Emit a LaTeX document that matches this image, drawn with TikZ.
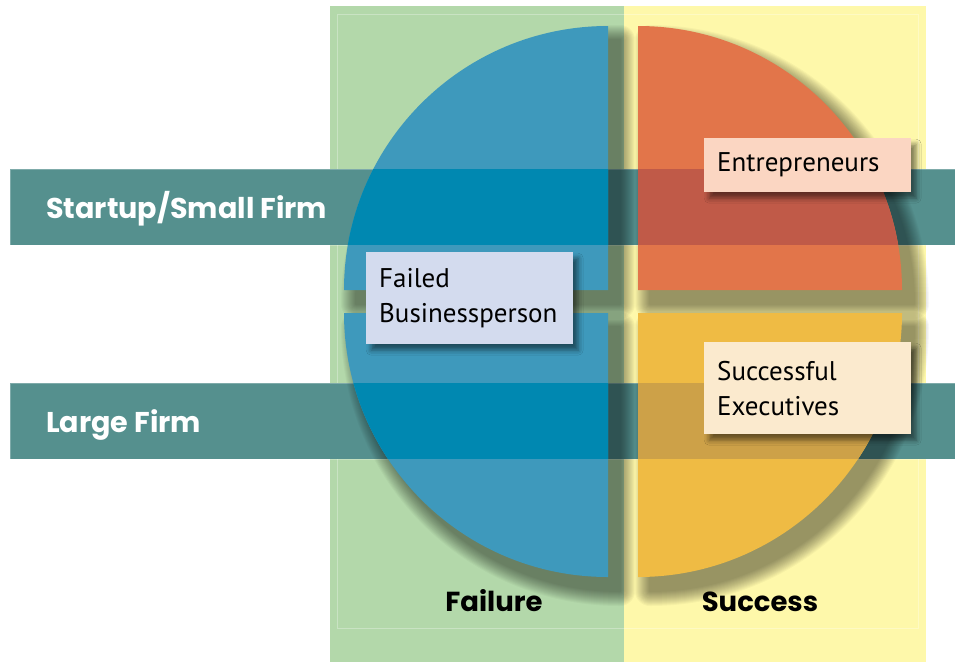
\documentclass[tikz,border=0pt]{standalone}
\usepackage{fontspec}
\setmainfont{PT Sans}
\newfontfamily\labelfont{Poppins}
\usetikzlibrary{shadows.blur}

\definecolor{failgreen}{HTML}{B3D8AA}
\definecolor{succyellow}{HTML}{FEF8AA}
\definecolor{bandteal}{HTML}{55908E}
\definecolor{qblue}{HTML}{3E99BC}
\definecolor{qorange}{HTML}{E2754A}
\definecolor{qyellow}{HTML}{EFBB44}
\definecolor{blueband}{HTML}{0088B1}
\definecolor{orangeband}{HTML}{C05A48}
\definecolor{yellowband}{HTML}{CDA148}
\definecolor{entfill}{HTML}{FBD6C2}
\definecolor{failfill}{HTML}{D3DBEE}
\definecolor{execfill}{HTML}{FBEACE}

% the four quarter discs (y runs downwards in the picture)
\newcommand{\quartTL}{(608,290) -- (344,290) arc[start angle=180, end angle=270, radius=264] -- cycle}
\newcommand{\quartBL}{(608,313) -- (344,313) arc[start angle=180, end angle=90, radius=264] -- cycle}
\newcommand{\quartTR}{(638,290) -- (902,290) arc[start angle=0, end angle=-90, radius=264] -- cycle}
\newcommand{\quartBR}{(638,313) -- (902,313) arc[start angle=0, end angle=90, radius=264] -- cycle}

% soft shadow: stacked strokes of growing width
\newcommand{\softshadow}[1]{%
    \foreach \w in {2,4,...,30} {
        \begin{scope}[shift={(12,14)}, transparency group, opacity=0.03]
            \filldraw[black, line width=\w pt, line join=round] #1;
        \end{scope}
    }}

\begin{document}
\begin{tikzpicture}[x=1pt,y=-1pt,
    band/.style={fill=bandteal, draw=white, draw opacity=0.25, line width=0.6pt},
    namebox/.style={rectangle, inner xsep=13pt, inner ysep=0pt, minimum width=207pt, text width=181pt,
        align=left, anchor=north west, font=\fontsize{27}{35}\selectfont,
        blur shadow={shadow xshift=5pt, shadow yshift=-6pt, shadow blur radius=5pt, shadow opacity=50}},
    rowlabel/.style={anchor=base west, text=white, inner sep=0pt, font=\labelfont\bfseries\fontsize{28.6}{34}\selectfont},
    collabel/.style={anchor=base, inner sep=0pt, font=\labelfont\bfseries\fontsize{27.5}{34}\selectfont}]

    \useasboundingbox (0,0) rectangle (961,662);

    % the two columns
    \fill[failgreen] (330,6) rectangle (624,662);
    \fill[succyellow] (624,6) rectangle (926,662);
    \draw[white, opacity=0.3] (337,14) rectangle (918,628);

    % the two rows
    \path[band] (10,169) rectangle (955,245);
    \path[band] (10,383) rectangle (955,459);

    % quarters with their shadows
    \softshadow{\quartTL}
    \softshadow{\quartBL}
    \softshadow{\quartTR}
    \softshadow{\quartBR}
    \fill[qblue] \quartTL;
    \fill[qblue] \quartBL;
    \fill[qorange] \quartTR;
    \fill[qyellow] \quartBR;

    % rows seen through the quarters
    \begin{scope}
        \clip \quartTL;
        \fill[blueband] (10,169) rectangle (955,245);
    \end{scope}
    \begin{scope}
        \clip \quartBL;
        \fill[blueband] (10,383) rectangle (955,459);
    \end{scope}
    \begin{scope}
        \clip \quartTR;
        \fill[orangeband] (10,169) rectangle (955,245);
    \end{scope}
    \begin{scope}
        \clip \quartBR;
        \fill[yellowband] (10,383) rectangle (955,459);
    \end{scope}

    % boxes
    \node[namebox, fill=entfill, minimum height=54pt] (entre) at (704,138) {Entrepreneurs};
    \node[namebox, fill=failfill, minimum height=92pt] (failed) at (366,252) {Failed\\Businessperson};
    \node[namebox, fill=execfill, minimum height=92pt] (execs) at (704,342) {Successful\\Executives};

    % labels
    \node[rowlabel] (small) at (46,218) {Startup/Small Firm};
    \node[rowlabel] (large) at (46,432) {Large Firm};
    \node[collabel] (fail) at (494,611) {Failure};
    \node[collabel] (succ) at (760,611) {Success};
\end{tikzpicture}
\end{document}
